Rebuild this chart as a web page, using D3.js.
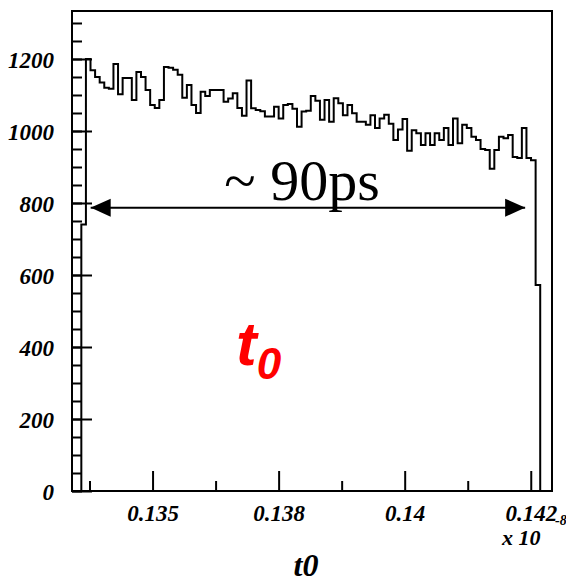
<!DOCTYPE html>
<html lang="en">
<head>
  <meta charset="UTF-8">
  <title>t0</title>
  <script src="https://d3js.org/d3.v7.min.js"></script>
  <style>
    body { margin: 0; background: #fff; }
    .axis text {
      font-family: "Liberation Serif", "Times New Roman", serif;
      font-weight: bold;
      font-style: italic;
      font-size: 23px;
      fill: #000;
    }
    .axis line { stroke: #000; stroke-width: 2px; }
  </style>
</head>
<body>
  <svg id="chart"></svg>
  <script>
    // histogram contents, 100 bins
    const binValues = [
      740, 1200, 1169, 1150, 1135, 1120, 1117, 1186, 1102, 1147,
      1147, 1086, 1164, 1150, 1114, 1072, 1064, 1086, 1178, 1176,
      1170, 1156, 1092, 1128, 1072, 1050, 1109, 1097, 1114, 1114,
      1114, 1081, 1090, 1105, 1064, 1042, 1140, 1063, 1058, 1055,
      1040, 1040, 1067, 1035, 1072, 1075, 1062, 1012, 1054, 1056,
      1097, 1084, 1031, 1086, 1026, 1091, 1077, 1044, 1072, 1049,
      1026, 1026, 1017, 1044, 1008, 1035, 1045, 1020, 975, 1004,
      1033, 945, 1002, 994, 961, 994, 961, 994, 975, 1008,
      961, 1035, 966, 1017, 1008, 984, 975, 950, 947, 895,
      947, 984, 980, 989, 928, 925, 1008, 925, 919, 572
    ];
    const histLow = 0.13437;
    const binWidth = 0.0000728;

    const xDomain = [0.134222, 0.141837];
    const yDomain = [0, 1333.3];

    const xMajorTicks = [0.1355, 0.1375, 0.1395, 0.1415];
    const xTickLabels = ["0.135", "0.138", "0.14", "0.142"];
    const xMinorTicks = [0.1345, 0.1365, 0.1385, 0.1405];
    const yMajorTicks = [0, 200, 400, 600, 800, 1000, 1200];
    const yMinorTicks = d3.range(0, 1301, 50);

    // annotation: arrow span (~90 ps) at height 787
    const arrowSpan = [0.134518, 0.141411];
    const arrowLevel = 787;

    const margin = { top: 11, right: 14, bottom: 92, left: 72 };
    const width = 566 - margin.left - margin.right;
    const height = 583 - margin.top - margin.bottom;

    const svg = d3.select("#chart")
      .attr("width", 566)
      .attr("height", 583);

    const g = svg.append("g")
      .attr("transform", "translate(" + margin.left + "," + margin.top + ")");

    const x = d3.scaleLinear().domain(xDomain).range([0, width]);
    const y = d3.scaleLinear().domain(yDomain).range([height, 0]);

    // histogram outline (steps)
    const pts = [[histLow, 0]];
    binValues.forEach((v, i) => {
      pts.push([histLow + i * binWidth, v]);
      pts.push([histLow + (i + 1) * binWidth, v]);
    });
    pts.push([histLow + binValues.length * binWidth, 0]);

    g.append("path")
      .datum(pts)
      .attr("fill", "none")
      .attr("stroke", "#000")
      .attr("stroke-width", 2)
      .attr("d", d3.line().x(d => x(d[0])).y(d => y(d[1])));

    // x axis: major + minor ticks pointing up
    const xAxis = g.append("g")
      .attr("class", "axis")
      .attr("transform", "translate(0," + height + ")")
      .call(d3.axisBottom(x).tickValues(xMajorTicks).tickSize(-20).tickPadding(14)
        .tickFormat((d, i) => xTickLabels[i]));
    xAxis.select(".domain").remove();

    g.append("g")
      .attr("class", "axis")
      .attr("transform", "translate(0," + height + ")")
      .call(d3.axisBottom(x).tickValues(xMinorTicks).tickSize(-10).tickFormat(""))
      .select(".domain").remove();

    // y axis
    const yAxis = g.append("g")
      .attr("class", "axis")
      .call(d3.axisLeft(y).tickValues(yMajorTicks).tickSize(-20).tickPadding(18)
        .tickFormat(d3.format("d")));
    yAxis.select(".domain").remove();
    yAxis.selectAll("text").attr("dy", "0.35em");

    g.append("g")
      .attr("class", "axis")
      .call(d3.axisLeft(y).tickValues(yMinorTicks).tickSize(-10).tickFormat(""))
      .select(".domain").remove();

    // frame
    g.append("rect")
      .attr("x", 0).attr("y", 0)
      .attr("width", width).attr("height", height)
      .attr("fill", "none")
      .attr("stroke", "#000")
      .attr("stroke-width", 2);

    // exponent label
    const expo = g.append("text")
      .attr("x", width - 50)
      .attr("y", height + 54)
      .style("font-family", "'Liberation Serif', serif")
      .style("font-weight", "bold")
      .style("font-style", "italic")
      .style("font-size", "22px");
    expo.append("tspan").text("x 10");
    expo.append("tspan").attr("x", width + 3).attr("dy", -20).style("font-size", "14px").text("-8");

    // axis title
    g.append("text")
      .attr("x", width / 2 - 6)
      .attr("y", height + 85)
      .attr("text-anchor", "middle")
      .style("font-family", "'Liberation Serif', serif")
      .style("font-weight", "bold")
      .style("font-style", "italic")
      .style("font-size", "32px")
      .text("t0");

    // double arrow
    const defs = svg.append("defs");
    ["start", "end"].forEach(k => {
      defs.append("marker")
        .attr("id", "arr-" + k)
        .attr("viewBox", "0 0 20 20")
        .attr("refX", 20).attr("refY", 10)
        .attr("markerWidth", 20).attr("markerHeight", 20)
        .attr("markerUnits", "userSpaceOnUse")
        .attr("orient", "auto-start-reverse")
        .append("path")
        .attr("d", "M0,1 L20,10 L0,19 Z")
        .attr("fill", "#000");
    });
    g.append("line")
      .attr("x1", x(arrowSpan[0])).attr("x2", x(arrowSpan[1]))
      .attr("y1", y(arrowLevel)).attr("y2", y(arrowLevel))
      .attr("stroke", "#000")
      .attr("stroke-width", 2)
      .attr("marker-start", "url(#arr-start)")
      .attr("marker-end", "url(#arr-end)");

    g.append("text")
      .attr("x", 230)
      .attr("y", 189)
      .attr("text-anchor", "middle")
      .style("font-family", "'Liberation Serif', serif")
      .style("font-size", "58px")
      .text("~ 90ps");

    // red t0 label
    const t0 = g.append("text")
      .attr("x", 164)
      .attr("y", 354)
      .attr("fill", "#ff0000")
      .style("font-family", "'Liberation Sans', Arial, sans-serif")
      .style("font-weight", "bold")
      .style("font-style", "italic")
      .style("font-size", "62px")
      .text("t");
    t0.append("tspan").attr("dy", 14).style("font-size", "44px").text("0");
  </script>
</body>
</html>
